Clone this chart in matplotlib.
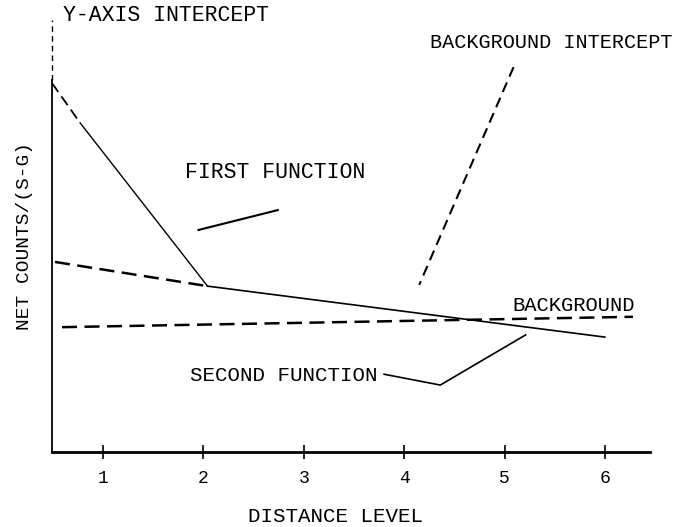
import matplotlib.pyplot as plt

# =====================================================
# DATA (distance level vs net counts, arbitrary y units)
# =====================================================
levels = [1, 2, 3, 4, 5, 6]

# first function: steep part, dashed near the y-axis intercept
first_dash_x = [0.49, 0.77]
first_dash_y = [8.54, 7.62]
first_x = [0.77, 2.04]
first_y = [7.62, 3.84]

# second function (solid) and its extrapolation back to the y-axis (dashed)
second_x = [2.04, 6.00]
second_y = [3.84, 2.66]
second_ext_x = [0.52, 2.04]
second_ext_y = [4.40, 3.84]

# background level
bg_x = [0.59, 6.28]
bg_y = [2.89, 3.13]

# leader lines for the labels
bg_int_x = [5.09, 4.15]
bg_int_y = [8.91, 3.87]
first_lead_x = [1.95, 2.74]
first_lead_y = [5.14, 5.60]
second_lead_x = [3.80, 4.36, 5.21]
second_lead_y = [1.80, 1.55, 2.71]

# y-axis (solid part + dashed part up to the label)
yaxis_solid = [0.0, 8.61]
yaxis_dash = [8.61, 10.0]

# =====================================================
# PLOT
# =====================================================
font = 'Liberation Mono'
fig = plt.figure(figsize=(6.85, 5.27), dpi=100)
ax = fig.add_axes([0.0759, 0.1423, 0.873, 0.8197])
ax.set_xlim(0.49, 6.45)
ax.set_ylim(0, 10)

dash = (6, 3)

ax.plot(first_dash_x, first_dash_y, color='black', lw=1.3, dashes=dash)
ax.plot(first_x, first_y, color='black', lw=1.0)
ax.plot(second_x, second_y, color='black', lw=1.2)
ax.plot(second_ext_x, second_ext_y, color='black', lw=1.8, dashes=dash)
ax.plot(bg_x, bg_y, color='black', lw=1.8, dashes=dash)
ax.plot(bg_int_x, bg_int_y, color='black', lw=1.5, dashes=(5, 3))
ax.plot(first_lead_x, first_lead_y, color='black', lw=1.5)
ax.plot(second_lead_x, second_lead_y, color='black', lw=1.2)

# y-axis drawn by hand
ax.plot([0.49, 0.49], yaxis_solid, color='black', lw=1.3, clip_on=False)
ax.plot([0.49, 0.49], yaxis_dash, color='black', lw=1.0, dashes=(4, 3), clip_on=False)

# labels on the chart
txt = dict(family=font, color='black', va='center', ha='left')
ax.text(0.60, 10.1, 'Y-AXIS INTERCEPT', fontsize=15.5, clip_on=False, **txt)
ax.text(4.26, 9.47, 'BACKGROUND INTERCEPT', fontsize=14.5, **txt)
ax.text(1.82, 6.46, 'FIRST FUNCTION', fontsize=15.5, **txt)
ax.text(1.87, 1.78, 'SECOND FUNCTION', fontsize=15, **txt)
ax.text(5.08, 3.40, 'BACKGROUND', fontsize=14.8, **txt)

# axes styling
for s in ['top', 'right', 'left']:
    ax.spines[s].set_visible(False)
ax.spines['bottom'].set_linewidth(2)
ax.set_yticks([])
ax.set_xticks(levels)
ax.set_xticklabels([str(v) for v in levels], family=font, fontsize=13)
ax.tick_params(axis='x', direction='inout', length=10, width=1.2, pad=8)

fig.text(335 / 685, 1 - 517 / 527, 'DISTANCE LEVEL', family=font, fontsize=15,
         ha='center', va='center')
ax.set_ylabel('NET COUNTS/(S-G)', family=font, fontsize=14, labelpad=14)

plt.savefig('out.png', dpi=100)
